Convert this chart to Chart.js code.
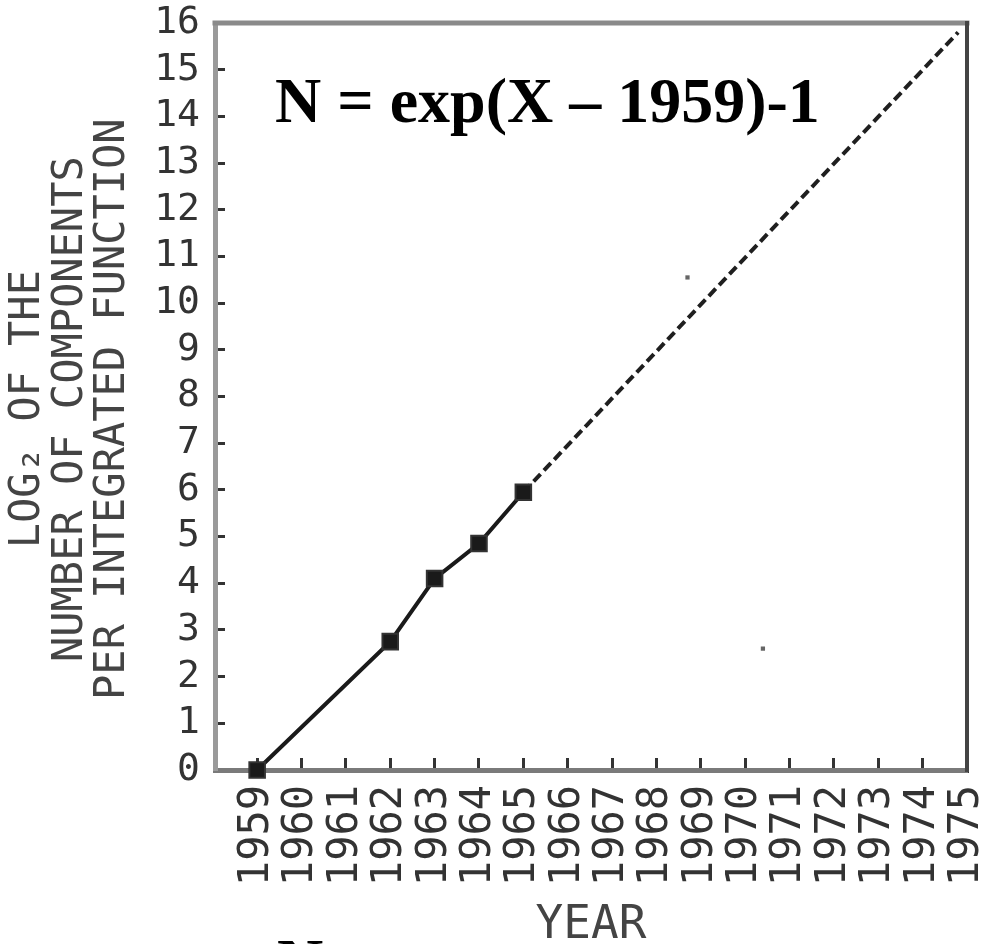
<!DOCTYPE html>
<html>
<head>
<meta charset="utf-8">
<script src="https://cdn.jsdelivr.net/npm/chart.js@4.4.1/dist/chart.umd.min.js"></script>
<style>
    html, body { margin: 0; padding: 0; background: #fff; }
    canvas { display: block; }
</style>
</head>
<body>
<canvas id="chart" width="988" height="944"></canvas>
<script>
// values
const years = [1959, 1960, 1961, 1962, 1963, 1964, 1965, 1966, 1967, 1968, 1969, 1970, 1971, 1972, 1973, 1974, 1975];
const logTicks = [0, 1, 2, 3, 4, 5, 6, 7, 8, 9, 10, 11, 12, 13, 14, 15, 16];

const measuredYears = [1959, 1962, 1963, 1964, 1965];
const measuredLog2 = [0, 2.75, 4.1, 4.85, 5.95];

const trendYears = [1965, 1974.8];
const trendLog2 = [5.95, 15.8];

// two stray specks of the scan
const speckYears = [1968.7, 1970.4];
const speckLog2 = [10.55, 2.6];

const yTitle = ["LOG\u2082 OF THE ", "NUMBER OF COMPONENTS ", "PER INTEGRATED FUNCTION "];
const xTitle = "YEAR";
const formula = "N = exp(X \u2013 1959)-1";

const mono = "'DejaVu Sans Mono', monospace";
const ink = "#333";

const toPoints = (xs, ys) => xs.map((x, i) => ({ x, y: ys[i] }));

// keep the plot box where the scan has it
function pinScale(scale, size) {
    if (scale.isHorizontal()) scale.height = size;
    else scale.width = size;
    scale.paddingLeft = 0;
    scale.paddingRight = 0;
    scale.paddingTop = 0;
    scale.paddingBottom = 0;
}

// frame (top + right edge) and the pasted-on formula text
const extras = {
    id: "extras",
    beforeDatasetsDraw(chart) {
        const { ctx, chartArea: a } = chart;
        ctx.save();
        ctx.lineCap = "square";
        ctx.strokeStyle = "#8a8a8a";
        ctx.lineWidth = 5;
        ctx.beginPath();
        ctx.moveTo(a.left, a.top);
        ctx.lineTo(a.right, a.top);
        ctx.stroke();
        ctx.strokeStyle = "#444";
        ctx.lineWidth = 4;
        ctx.beginPath();
        ctx.moveTo(a.right, a.top);
        ctx.lineTo(a.right, a.bottom);
        ctx.stroke();
        ctx.restore();
    },
    afterDraw(chart) {
        const { ctx, chartArea: a } = chart;
        ctx.save();
        ctx.fillStyle = "#000";
        ctx.font = "bold 64px 'Liberation Serif', 'Times New Roman', serif";
        ctx.textBaseline = "alphabetic";
        ctx.textAlign = "left";
        ctx.fillText(formula, a.left + 60, a.top + 99);
        // the cut-off "N" at the very bottom of the picture
        ctx.fillText("N", a.left + 62, chart.height + 39);
        ctx.restore();
    }
};

new Chart(document.getElementById("chart"), {
    type: "line",
    data: {
        datasets: [
            {
                label: "measured",
                data: toPoints(measuredYears, measuredLog2),
                borderColor: "#1a1a1a",
                backgroundColor: "#1a1a1a",
                borderWidth: 4,
                pointStyle: "rect",
                pointRadius: 11,
                pointBorderWidth: 2,
                pointBorderColor: "#333",
                pointBackgroundColor: "#1a1a1a",
                tension: 0,
                clip: false
            },
            {
                label: "extrapolation",
                data: toPoints(trendYears, trendLog2),
                borderColor: "#1f1f1f",
                borderWidth: 4,
                borderDash: [10, 5],
                pointRadius: 0,
                tension: 0,
                clip: false
            },
            {
                label: "specks",
                data: toPoints(speckYears, speckLog2),
                showLine: false,
                pointStyle: "rect",
                pointRadius: 3,
                pointBorderWidth: 0,
                pointBackgroundColor: "#666",
                clip: false
            }
        ]
    },
    options: {
        responsive: false,
        animation: false,
        events: [],
        layout: { padding: { top: 23, right: 21, left: 0, bottom: 0 } },
        plugins: {
            legend: { display: false },
            tooltip: { enabled: false }
        },
        scales: {
            x: {
                type: "linear",
                min: 1958.05,
                max: 1975,
                afterBuildTicks: scale => { scale.ticks = years.map(v => ({ value: v })); },
                afterFit: scale => pinScale(scale, 174),
                border: { display: true, color: "#7a7a7a", width: 5 },
                grid: {
                    drawOnChartArea: false,
                    drawTicks: true,
                    tickLength: -12,
                    tickWidth: 3,
                    tickColor: "#333"
                },
                ticks: {
                    autoSkip: false,
                    minRotation: 90,
                    maxRotation: 90,
                    padding: 27,
                    color: ink,
                    font: { family: mono, size: 42 },
                    callback: v => String(v)
                },
                title: {
                    display: true,
                    text: xTitle,
                    color: "#444",
                    font: { family: mono, size: 46, lineHeight: 0.8 },
                    padding: { top: 0, bottom: 0 }
                }
            },
            y: {
                type: "linear",
                min: 0,
                max: 16,
                afterBuildTicks: scale => { scale.ticks = logTicks.map(v => ({ value: v })); },
                afterFit: scale => pinScale(scale, 215),
                border: { display: true, color: "#9a9a9a", width: 5 },
                grid: {
                    drawOnChartArea: false,
                    drawTicks: true,
                    tickLength: -10,
                    tickWidth: 3,
                    tickColor: "#333"
                },
                ticks: {
                    autoSkip: false,
                    padding: 25,
                    color: ink,
                    font: { family: mono, size: 38 },
                    callback: v => String(v)
                },
                title: {
                    display: true,
                    text: yTitle,
                    color: "#444",
                    font: { family: mono, size: 42, lineHeight: 1.01 },
                    padding: { top: 7, bottom: 0 }
                }
            }
        }
    },
    plugins: [extras]
});
</script>
</body>
</html>
